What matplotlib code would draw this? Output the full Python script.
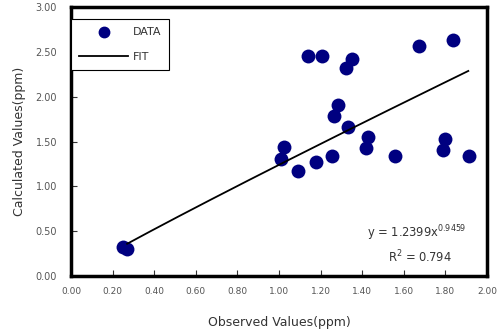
import numpy as np
import matplotlib
matplotlib.use("Agg")
import matplotlib.pyplot as plt
from matplotlib.lines import Line2D

obs = [0.248, 0.267, 1.008, 1.022, 1.091, 1.139, 1.179, 1.206, 1.256, 1.264, 1.283,
       1.323, 1.332, 1.352, 1.419, 1.427, 1.560, 1.675, 1.790, 1.799, 1.838, 1.915]
calc = [0.327, 0.298, 1.301, 1.435, 1.171, 2.453, 1.274, 2.453, 1.341, 1.784, 1.903,
        2.322, 1.658, 2.416, 1.430, 1.546, 1.341, 2.564, 1.405, 1.524, 2.631, 1.341]
fit_a = 1.2399
fit_b = 0.9459
fit_range = [0.27, 1.91]
r2 = 0.794

xticks = [0.0, 0.2, 0.4, 0.6, 0.8, 1.0, 1.2, 1.4, 1.6, 1.8, 2.0]
yticks = [0.0, 0.5, 1.0, 1.5, 2.0, 2.5, 3.0]

plt.rcParams['font.family'] = ['DejaVu Sans']

fig = plt.figure(figsize=(4.97, 3.36), dpi=100)
ax = fig.add_axes([71/497, 1-276/336, (487-71)/497, (276-7)/336])

ax.scatter(obs, calc, s=100, color='#000080', zorder=3, linewidths=0)
xf = np.linspace(fit_range[0], fit_range[1], 200)
ax.plot(xf, fit_a * xf ** fit_b, color='black', lw=1.3, zorder=4)

ax.set_xlim(0, 2.0)
ax.set_ylim(0, 3.0)
ax.set_xticks(xticks)
ax.set_yticks(yticks)
ax.set_xticklabels([f"{v:.2f}" for v in xticks])
ax.set_yticklabels([f"{v:.2f}" for v in yticks])
ax.tick_params(direction='in', length=4, width=0.8, labelsize=7, labelcolor='#555555',
               color='#333333')
ax.tick_params(axis='x', pad=8, labelsize=6.5)
ax.tick_params(axis='y', pad=10)
for s in ax.spines.values():
    s.set_linewidth(2.5)
    s.set_color('black')

ax.set_xlabel("Observed Values(ppm)", fontsize=9, color='#333333', labelpad=14)
ax.set_ylabel("Calculated Values(ppm)", fontsize=9, color='#333333', labelpad=7)

handles = [Line2D([], [], marker='o', ls='none', color='#000080', markersize=7.5),
           Line2D([], [], color='black', lw=1.3)]
leg = ax.legend(handles, ['DATA', 'FIT'], loc='upper left', bbox_to_anchor=(0.0, 0.955),
                fancybox=False, framealpha=1, edgecolor='black', fontsize=8,
                handlelength=4.4, borderpad=0.75, labelspacing=1.3, handletextpad=0.4,
                borderaxespad=0)
leg.get_frame().set_linewidth(0.8)
for t in leg.get_texts():
    t.set_color('#333333')

ax.text(0.95, 0.16, f"y = {fit_a}x$^{{{fit_b}}}$", transform=ax.transAxes,
        ha='right', va='center', fontsize=8.3, color='#333333')
ax.text(0.915, 0.072, f"R$^2$ = {r2}", transform=ax.transAxes,
        ha='right', va='center', fontsize=8.3, color='#333333')

fig.savefig("out.png", dpi=100)
